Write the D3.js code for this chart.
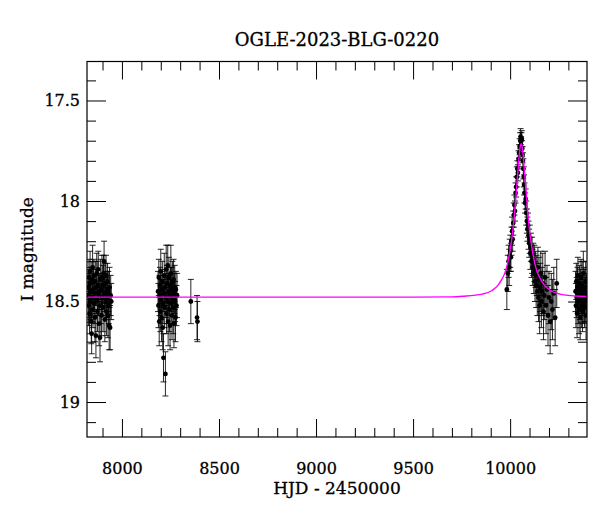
<!DOCTYPE html>
<html><head><meta charset="utf-8">
<script src="https://cdn.jsdelivr.net/npm/d3@7"></script>
<style>body{margin:0;background:#fff}svg{display:block}</style>
</head><body>
<svg id="c" width="600" height="512"></svg>
<script>
const title = "OGLE-2023-BLG-0220";
const xLabel = "HJD - 2450000";
const yLabel = "I magnitude";
const xMajorTicks = [8000, 8500, 9000, 9500, 10000];
const yMajorTicks = [17.5, 18, 18.5, 19];

// observations: HJD-2450000, I mag, error
const obsT = [
7826,7828,7830,7831,7833,7835,7836,7838,7840,7842,7844,7845,7847,7849,7851,7853,7855,7857,7859,7861,
7863,7866,7868,7870,7872,7874,7876,7878,7880,7882,7884,7887,7889,7891,7893,7895,7897,7899,7901,7903,
7905,7908,7910,7912,7914,7916,7918,7920,7922,7924,7926,7928,7930,7932,7934,7936,7939,7942,7945,
8186,8188,8190,8192,8194,8196,8198,8200,8202,8204,8206,8208,8210,8212,8214,8216,8218,8220,8222,8224,
8226,8228,8230,8232,8234,8236,8238,8240,8242,8244,8246,8248,8250,8252,8254,8256,8258,8260,8262,8264,
8266,8268,8270,8272,8274,8276,8278,8281,8284,
8355,8387,8389,
9983,9988,9992,9995,9998,10001,10004,10007,10010,10013,10016,10019,10022,10025,10028,10031,10034,10037,10040,10043,
10046,10049,10052,10054,10056,10058,10060,10062,10064,10066,10068,10070,10072,10074,10077,10080,10083,10086,10089,10092,
10095,10098,10101,10104,10107,10110,10113,10116,10119,10122,10125,10128,10131,10134,10137,10140,10143,10146,10149,10152,
10155,10158,10161,10164,10168,10172,10176,10180,10185,10190,10195,10200,10206,10212,10218,10225,10232,10240,
10337,10339,10341,10343,10345,10347,10349,10351,10353,10355,10357,10359,10361,10363,10365,10367,10369,10371,10373,10375,
10377,10379,10381,10383,10385,10387,10389,10391,10393
];
const obsMag = [
18.43,18.52,18.38,18.47,18.56,18.41,18.35,18.50,18.45,18.60,18.66,18.39,18.48,18.33,18.54,18.44,18.37,18.51,18.46,18.58,
18.40,18.67,18.43,18.36,18.49,18.55,18.42,18.34,18.47,18.61,18.45,18.68,18.39,18.52,18.44,18.57,18.38,18.48,18.42,18.53,
18.36,18.30,18.46,18.59,18.41,18.50,18.37,18.55,18.44,18.48,18.40,18.57,18.45,18.52,18.62,18.43,18.63,18.47,18.50,
18.45,18.52,18.38,18.60,18.47,18.42,18.55,18.35,18.49,18.58,18.44,18.40,18.63,18.51,18.78,18.46,18.37,18.53,18.43,18.86,
18.48,18.34,18.56,18.41,18.50,18.32,18.60,18.45,18.38,18.54,18.47,18.62,18.42,18.36,18.51,18.44,18.57,18.40,18.48,18.53,
18.39,18.61,18.46,18.43,18.50,18.58,18.44,18.52,18.47,
18.50,18.58,18.60,
18.44,18.36,18.30,18.33,18.27,18.25,18.28,18.20,18.15,18.19,18.11,18.07,18.02,18.05,17.96,17.93,17.88,17.84,17.86,17.79,
17.76,17.73,17.70,17.68,17.72,17.70,17.69,17.74,17.77,17.80,17.84,17.88,17.92,17.96,18.01,17.99,18.06,18.10,18.14,18.12,
18.17,18.21,18.19,18.26,18.23,18.30,18.27,18.33,18.29,18.36,18.31,18.40,18.34,18.42,18.37,18.45,18.33,18.48,18.39,18.52,
18.43,18.36,18.50,18.45,18.41,18.55,18.47,18.38,18.52,18.44,18.57,18.48,18.60,18.50,18.54,18.46,18.58,18.41,
18.45,18.52,18.40,18.48,18.56,18.43,18.37,18.50,18.46,18.54,18.41,18.49,18.58,18.44,18.38,18.52,18.47,18.42,18.55,18.48,
18.36,18.51,18.45,18.53,18.43,18.49,18.40,18.57,18.46
];
const obsErr = [
.09,.10,.09,.11,.10,.08,.10,.09,.12,.11,.10,.09,.10,.11,.09,.10,.08,.10,.09,.12,
.10,.11,.09,.10,.08,.10,.12,.09,.10,.11,.09,.12,.10,.09,.08,.10,.11,.09,.10,.12,
.09,.10,.09,.11,.10,.09,.10,.12,.09,.10,.09,.11,.10,.09,.12,.10,.11,.10,.09,
.10,.11,.09,.12,.10,.09,.10,.11,.10,.12,.09,.10,.11,.10,.12,.09,.11,.10,.09,.11,
.10,.12,.10,.09,.11,.10,.12,.09,.10,.11,.10,.12,.09,.14,.10,.11,.12,.10,.09,.13,
.10,.12,.10,.11,.10,.12,.09,.10,.11,
.11,.11,.10,
.10,.09,.08,.09,.08,.08,.07,.07,.07,.06,.06,.06,.05,.05,.05,.05,.05,.04,.04,.04,
.04,.04,.04,.04,.04,.04,.04,.04,.04,.04,.05,.05,.05,.05,.05,.05,.06,.06,.06,.06,
.07,.07,.07,.08,.07,.08,.09,.09,.08,.10,.09,.10,.09,.11,.10,.12,.10,.12,.11,.14,
.12,.11,.13,.12,.15,.14,.12,.13,.14,.12,.15,.13,.16,.14,.15,.13,.14,.12,
.10,.11,.09,.10,.12,.10,.09,.11,.10,.12,.09,.10,.11,.10,.09,.11,.10,.12,.10,.09,
.11,.10,.12,.10,.09,.11,.10,.12,.10
];

// model light curve
const modelT = [7820,9500,9700,9757,9857,9907,9937,9957,9972,9987,9997,10007,10017,10022,10027,10032,10037,10042,10047,10052,
  10057,10062,10067,10072,10077,10082,10087,10092,10097,10107,10117,10127,10142,10157,10177,10207,10257,10357,10396];
const modelMag = [18.478,18.478,18.477,18.474,18.463,18.445,18.42,18.39,18.36,18.31,18.26,18.20,18.12,18.07,18.01,17.95,17.89,17.83,17.77,17.73,
  17.715,17.73,17.77,17.83,17.89,17.95,18.01,18.07,18.12,18.20,18.26,18.31,18.36,18.39,18.42,18.445,18.463,18.474,18.475];

const L = 87, R = 587, T = 61.5, B = 437;
const svg = d3.select("#c");
const font = "DejaVu Serif";
const x = d3.scaleLinear().domain([7820, 10396]).range([L, R]);
const y = d3.scaleLinear().domain([17.306, 19.174]).range([T, B]);

svg.append("defs").append("clipPath").attr("id","clip")
  .append("rect").attr("x",L).attr("y",T).attr("width",R-L).attr("height",B-T);

const xMinor = d3.range(7900, 10400, 100).filter(v => !xMajorTicks.includes(v));
const yMinor = d3.range(174, 192, 1).map(v => v/10).filter(v => !yMajorTicks.includes(v));

function ax(gen, tr) {
  const g = svg.append("g").attr("transform", tr).call(gen);
  g.select(".domain").remove();
  g.selectAll("line").attr("stroke","#000").attr("stroke-width",1);
  return g;
}
function styleText(sel, size) {
  sel.attr("font-family",font).attr("font-size",size).attr("fill","#000")
     .attr("stroke","#000").attr("stroke-width",0.3);
}
// bottom
const gb = ax(d3.axisBottom(x).tickValues(xMajorTicks).tickSize(-18).tickPadding(26).tickFormat(d3.format("d")), `translate(0,${B})`);
styleText(gb.selectAll("text"), 16);
ax(d3.axisBottom(x).tickValues(xMinor).tickSize(-9).tickFormat(""), `translate(0,${B})`);
// top
ax(d3.axisTop(x).tickValues(xMajorTicks).tickSize(-18).tickFormat(""), `translate(0,${T})`);
ax(d3.axisTop(x).tickValues(xMinor).tickSize(-9).tickFormat(""), `translate(0,${T})`);
// left
const gl = ax(d3.axisLeft(y).tickValues(yMajorTicks).tickSize(-19).tickFormat(d => String(d)), `translate(${L},0)`);
styleText(gl.selectAll("text"), 16);
gl.selectAll("text").attr("x",-7);
ax(d3.axisLeft(y).tickValues(yMinor).tickSize(-9).tickFormat(""), `translate(${L},0)`);
// right
ax(d3.axisRight(y).tickValues(yMajorTicks).tickSize(-19).tickFormat(""), `translate(${R},0)`);
ax(d3.axisRight(y).tickValues(yMinor).tickSize(-9).tickFormat(""), `translate(${R},0)`);

const data = obsT.map((t,i) => ({t, m: obsMag[i], e: obsErr[i]}));
const pg = svg.append("g").attr("clip-path","url(#clip)");
const eb = pg.append("g").attr("stroke","#000").attr("stroke-width",1).attr("stroke-opacity",0.85);
data.forEach(d => {
  const cx = x(d.t), y1 = y(d.m - d.e), y2 = y(d.m + d.e);
  eb.append("line").attr("x1",cx).attr("x2",cx).attr("y1",y1).attr("y2",y2);
  eb.append("line").attr("x1",cx-3).attr("x2",cx+3).attr("y1",y1).attr("y2",y1);
  eb.append("line").attr("x1",cx-3).attr("x2",cx+3).attr("y1",y2).attr("y2",y2);
});
pg.append("g").selectAll("circle").data(data).join("circle")
  .attr("cx", d => x(d.t)).attr("cy", d => y(d.m)).attr("r", 2.4).attr("fill","#000");

const model = modelT.map((t,i) => [t, modelMag[i]]);
pg.append("path").datum(model)
  .attr("d", d3.line().x(d => x(d[0])).y(d => y(d[1])).curve(d3.curveMonotoneX))
  .attr("fill","none").attr("stroke","#ff00ff").attr("stroke-width",1.4);

svg.append("rect").attr("x",L).attr("y",T).attr("width",R-L).attr("height",B-T)
  .attr("fill","none").attr("stroke","#000").attr("stroke-width",1.2);

styleText(svg.append("text").attr("x",(L+R)/2).attr("y",46).attr("text-anchor","middle").text(title), 18);
styleText(svg.append("text").attr("x",(L+R)/2).attr("y",494).attr("text-anchor","middle").text(xLabel), 17);
styleText(svg.append("text").attr("transform",`translate(33,${(T+B)/2}) rotate(-90)`).attr("text-anchor","middle").text(yLabel), 17);
</script>
</body></html>
